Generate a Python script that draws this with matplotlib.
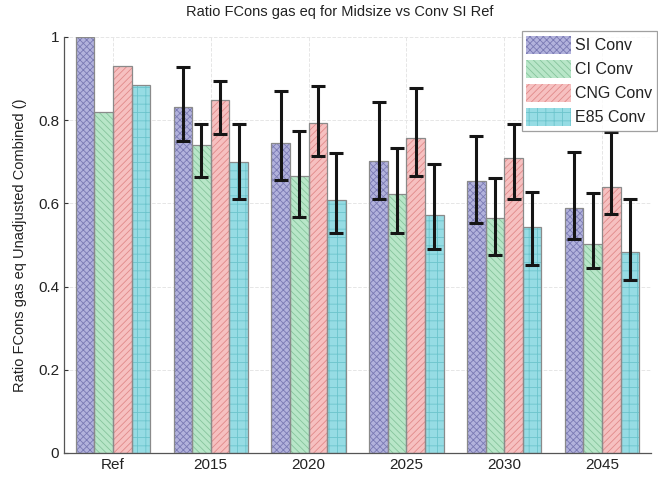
import numpy as np
import matplotlib
matplotlib.use("Agg")
import matplotlib.pyplot as plt
from matplotlib.patches import Patch

plt.rcParams['font.family'] = ['Liberation Sans', 'DejaVu Sans']
plt.rcParams['hatch.linewidth'] = 0.6

categories = ['Ref', '2015', '2020', '2025', '2030', '2045']
series_names = ['SI Conv', 'CI Conv', 'CNG Conv', 'E85 Conv']

si = [1.0, 0.832, 0.744, 0.702, 0.654, 0.589]
ci = [0.82, 0.74, 0.666, 0.623, 0.565, 0.502]
cng = [0.93, 0.849, 0.793, 0.757, 0.709, 0.64]
e85 = [0.885, 0.70, 0.608, 0.572, 0.543, 0.483]

nan = np.nan
si_hi = [nan, 0.927, 0.869, 0.844, 0.762, 0.724]
si_lo = [nan, 0.75, 0.656, 0.61, 0.553, 0.514]
ci_hi = [nan, 0.792, 0.774, 0.733, 0.661, 0.625]
ci_lo = [nan, 0.663, 0.567, 0.529, 0.476, 0.445]
cng_hi = [nan, 0.894, 0.882, 0.877, 0.79, 0.772]
cng_lo = [nan, 0.767, 0.713, 0.666, 0.61, 0.575]
e85_hi = [nan, 0.791, 0.72, 0.695, 0.627, 0.61]
e85_lo = [nan, 0.61, 0.53, 0.49, 0.452, 0.416]

values = [si, ci, cng, e85]
highs = [si_hi, ci_hi, cng_hi, e85_hi]
lows = [si_lo, ci_lo, cng_lo, e85_lo]

faces = ['#b2b2dc', '#b8e6c8', '#f6c0c0', '#96dce4']
hatch_cols = ['#7a7ab4', '#86c49c', '#e08a8a', '#6cc4cc']
hatches = ['xxxxx', '\\\\\\\\\\', '/////', '++']

fig = plt.figure(figsize=(6.58, 4.78), dpi=100)
ax = fig.add_axes([64 / 658, 25 / 478, 587 / 658, 416 / 478])

x = np.arange(1, len(categories) + 1)
width = 0.19
offsets = [-1.5 * width, -0.5 * width, 0.5 * width, 1.5 * width]

for vals, hi, lo, fc, hc, hat, off in zip(values, highs, lows, faces,
                                          hatch_cols, hatches, offsets):
    vals = np.array(vals)
    ax.bar(x + off, vals, width, color=fc, edgecolor=hc, hatch=hat,
           linewidth=0, zorder=2)
    ax.bar(x + off, vals, width, fill=False, edgecolor='#8a8a8a',
           linewidth=0.9, zorder=3)
    hi = np.array(hi)
    lo = np.array(lo)
    mask = ~np.isnan(hi)
    err = np.vstack([vals[mask] - lo[mask], hi[mask] - vals[mask]])
    ax.errorbar((x + off)[mask], vals[mask], yerr=err, fmt='none',
                ecolor='#151515', elinewidth=2.2, capsize=5, capthick=2.2,
                zorder=4)

ax.set_xlim(0.5, 6.5)
ax.set_ylim(0, 1)
ax.set_xticks(x)
ax.set_xticklabels(categories)
ax.set_yticks([0, 0.2, 0.4, 0.6, 0.8, 1.0])
ax.set_yticklabels(['0', '0.2', '0.4', '0.6', '0.8', '1'])
ax.tick_params(labelsize=11, colors='#333333', length=3, direction='in')
for lbl in ax.get_xticklabels() + ax.get_yticklabels():
    lbl.set_color('#222222')

ax.grid(True, color='#e6e6e6', linestyle='--', linewidth=0.7, zorder=0)
ax.set_axisbelow(True)
for side in ['top', 'right']:
    ax.spines[side].set_visible(False)
for side in ['left', 'bottom']:
    ax.spines[side].set_color('#555555')
    ax.spines[side].set_linewidth(0.9)

ax.set_ylabel('Ratio FCons gas eq Unadjusted Combined ()', fontsize=10.5,
              color='#222222', labelpad=8)
fig.text(340 / 658, 1 - 12 / 478, 'Ratio FCons gas eq for Midsize vs Conv SI Ref',
         ha='center', va='center', fontsize=10.5, color='#222222')

handles = [Patch(facecolor=fc, edgecolor=hc, hatch=hat, linewidth=0)
           for fc, hc, hat in zip(faces, hatch_cols, hatches)]
leg = fig.legend(handles, series_names, loc='upper right',
                 bbox_to_anchor=(657 / 658, 1 - 31 / 478), fontsize=11.5,
                 frameon=True, fancybox=False, borderpad=0.3,
                 handlelength=2.8, handleheight=1.35, handletextpad=0.25,
                 labelspacing=0.38, borderaxespad=0)
leg.get_frame().set_edgecolor('#888888')
leg.get_frame().set_linewidth(0.9)
for t in leg.get_texts():
    t.set_color('#222222')

fig.savefig('out.png', dpi=100)
